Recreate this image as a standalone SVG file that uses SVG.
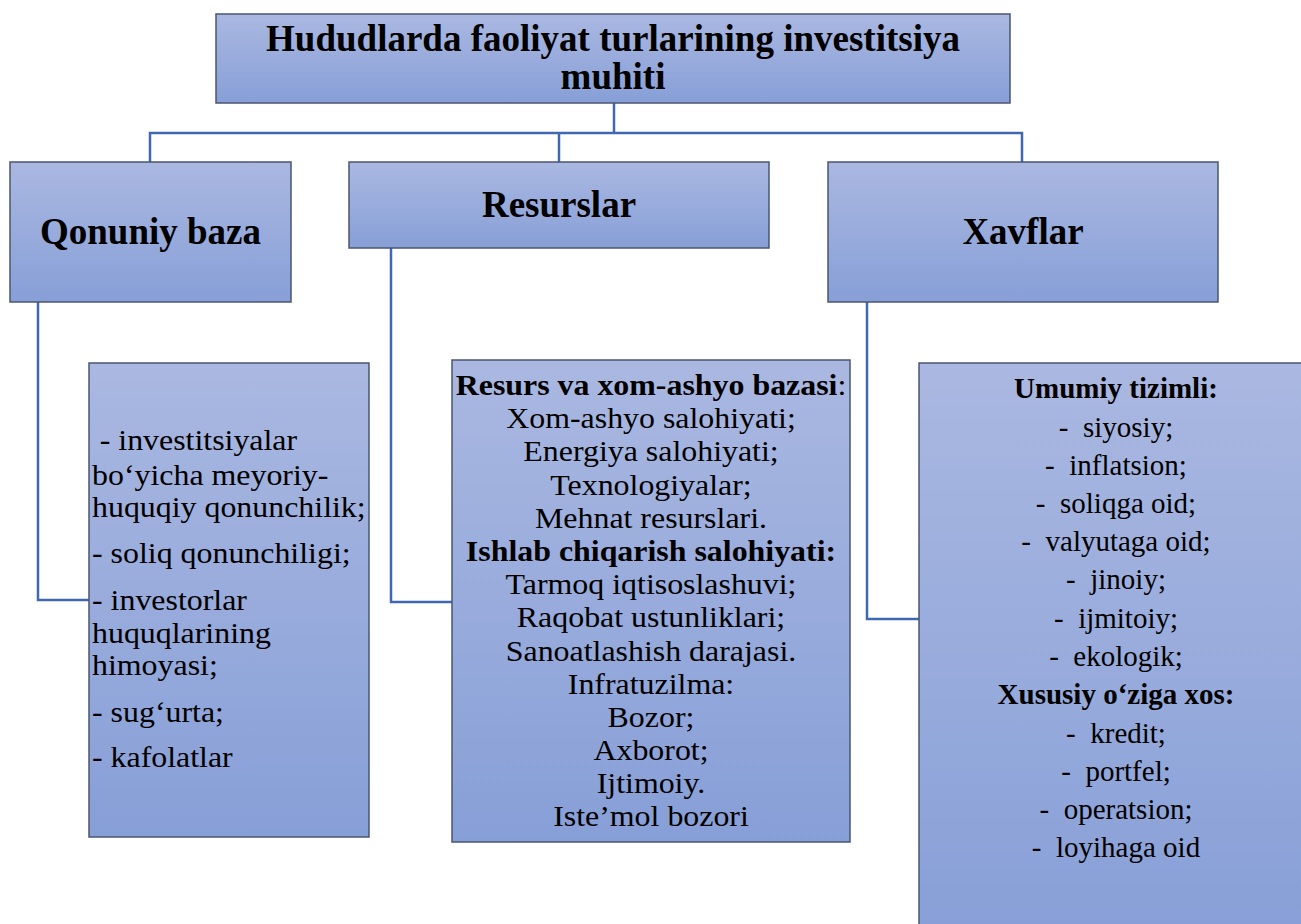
<svg xmlns="http://www.w3.org/2000/svg" width="1301" height="924" viewBox="0 0 1301 924">
<defs>
<linearGradient id="g" x1="0" y1="0" x2="0" y2="1">
<stop offset="0" stop-color="#AAB8E1"/>
<stop offset="1" stop-color="#879FD7"/>
</linearGradient>
<style>
.box{fill:url(#g);stroke:#4A5570;stroke-width:1.5}
.con{fill:none;stroke:#4068B0;stroke-width:2.5}
text{font-family:"Liberation Serif","Times New Roman",serif;fill:#000}
.h{font-size:37px;font-weight:bold;text-anchor:middle}
.t{font-size:29px}
.c{text-anchor:middle}
.b{font-weight:bold}
</style>
</defs>
<rect width="1301" height="924" fill="#fff"/>
<g id="connectors">
<polyline class="con" points="614,103 614,133"/>
<polyline class="con" points="150,162 150,133 1022,133 1022,162"/>
<polyline class="con" points="559,133 559,162"/>
<polyline class="con" points="38,302 38,600 90,600"/>
<polyline class="con" points="391,248 391,602 453,602"/>
<polyline class="con" points="867,302 867,619 920,619"/>
</g>
<g id="root">
<rect class="box" x="216" y="14" width="794" height="89"/>
<text class="h" x="613" y="51">Hududlarda faoliyat turlarining investitsiya</text>
<text class="h" x="613" y="89">muhiti</text>
</g>
<g id="qonuniy">
<rect class="box" x="10" y="162" width="281" height="140"/>
<text class="h" x="150.5" y="244">Qonuniy baza</text>
</g>
<g id="resurslar">
<rect class="box" x="349" y="162" width="420" height="86"/>
<text class="h" x="559" y="217">Resurslar</text>
</g>
<g id="xavflar">
<rect class="box" x="828" y="162" width="390" height="140"/>
<text class="h" x="1023" y="244">Xavflar</text>
</g>
<g id="qonuniy-list">
<rect class="box" x="89" y="363" width="280" height="474"/>
<g transform="translate(92,0) scale(1.1,1)">
<text class="t" x="7" y="450">- investitsiyalar</text>
<text class="t" x="0" y="485">bo‘yicha meyoriy-</text>
<text class="t" x="0" y="517">huquqiy qonunchilik;</text>
<text class="t" x="0" y="563">- soliq qonunchiligi;</text>
<text class="t" x="0" y="610">- investorlar</text>
<text class="t" x="0" y="643">huquqlarining</text>
<text class="t" x="0" y="675">himoyasi;</text>
<text class="t" x="0" y="722">- sug‘urta;</text>
<text class="t" x="0" y="767">- kafolatlar</text>
</g>
</g>
<g id="resurslar-list">
<rect class="box" x="452" y="360" width="398" height="482"/>
<g transform="translate(651,0) scale(1.1,1)">
<text class="t c" x="0" y="395"><tspan class="b">Resurs va xom-ashyo bazasi</tspan>:</text>
<text class="t c" x="0" y="428">Xom-ashyo salohiyati;</text>
<text class="t c" x="0" y="461">Energiya salohiyati;</text>
<text class="t c" x="0" y="495">Texnologiyalar;</text>
<text class="t c" x="0" y="528">Mehnat resurslari.</text>
<text class="t c b" x="0" y="561">Ishlab chiqarish salohiyati:</text>
<text class="t c" x="0" y="594">Tarmoq iqtisoslashuvi;</text>
<text class="t c" x="0" y="627">Raqobat ustunliklari;</text>
<text class="t c" x="0" y="661">Sanoatlashish darajasi.</text>
<text class="t c" x="0" y="694">Infratuzilma:</text>
<text class="t c" x="0" y="727">Bozor;</text>
<text class="t c" x="0" y="760">Axborot;</text>
<text class="t c" x="0" y="793">Ijtimoiy.</text>
<text class="t c" x="0" y="826">Iste’mol bozori</text>
</g>
</g>
<g id="xavflar-list">
<rect class="box" x="919" y="363" width="395" height="580"/>
<text class="t c b" x="1116" y="398">Umumiy tizimli:</text>
<text class="t c" x="1116" y="437">-&#160;&#160;siyosiy;</text>
<text class="t c" x="1116" y="475">-&#160;&#160;inflatsion;</text>
<text class="t c" x="1116" y="513">-&#160;&#160;soliqga oid;</text>
<text class="t c" x="1116" y="551">-&#160;&#160;valyutaga oid;</text>
<text class="t c" x="1116" y="589">-&#160;&#160;jinoiy;</text>
<text class="t c" x="1116" y="628">-&#160;&#160;ijmitoiy;</text>
<text class="t c" x="1116" y="666">-&#160;&#160;ekologik;</text>
<text class="t c b" x="1116" y="704">Xususiy o‘ziga xos:</text>
<text class="t c" x="1116" y="743">-&#160;&#160;kredit;</text>
<text class="t c" x="1116" y="781">-&#160;&#160;portfel;</text>
<text class="t c" x="1116" y="819">-&#160;&#160;operatsion;</text>
<text class="t c" x="1116" y="857">-&#160;&#160;loyihaga oid</text>
</g>
</svg>
